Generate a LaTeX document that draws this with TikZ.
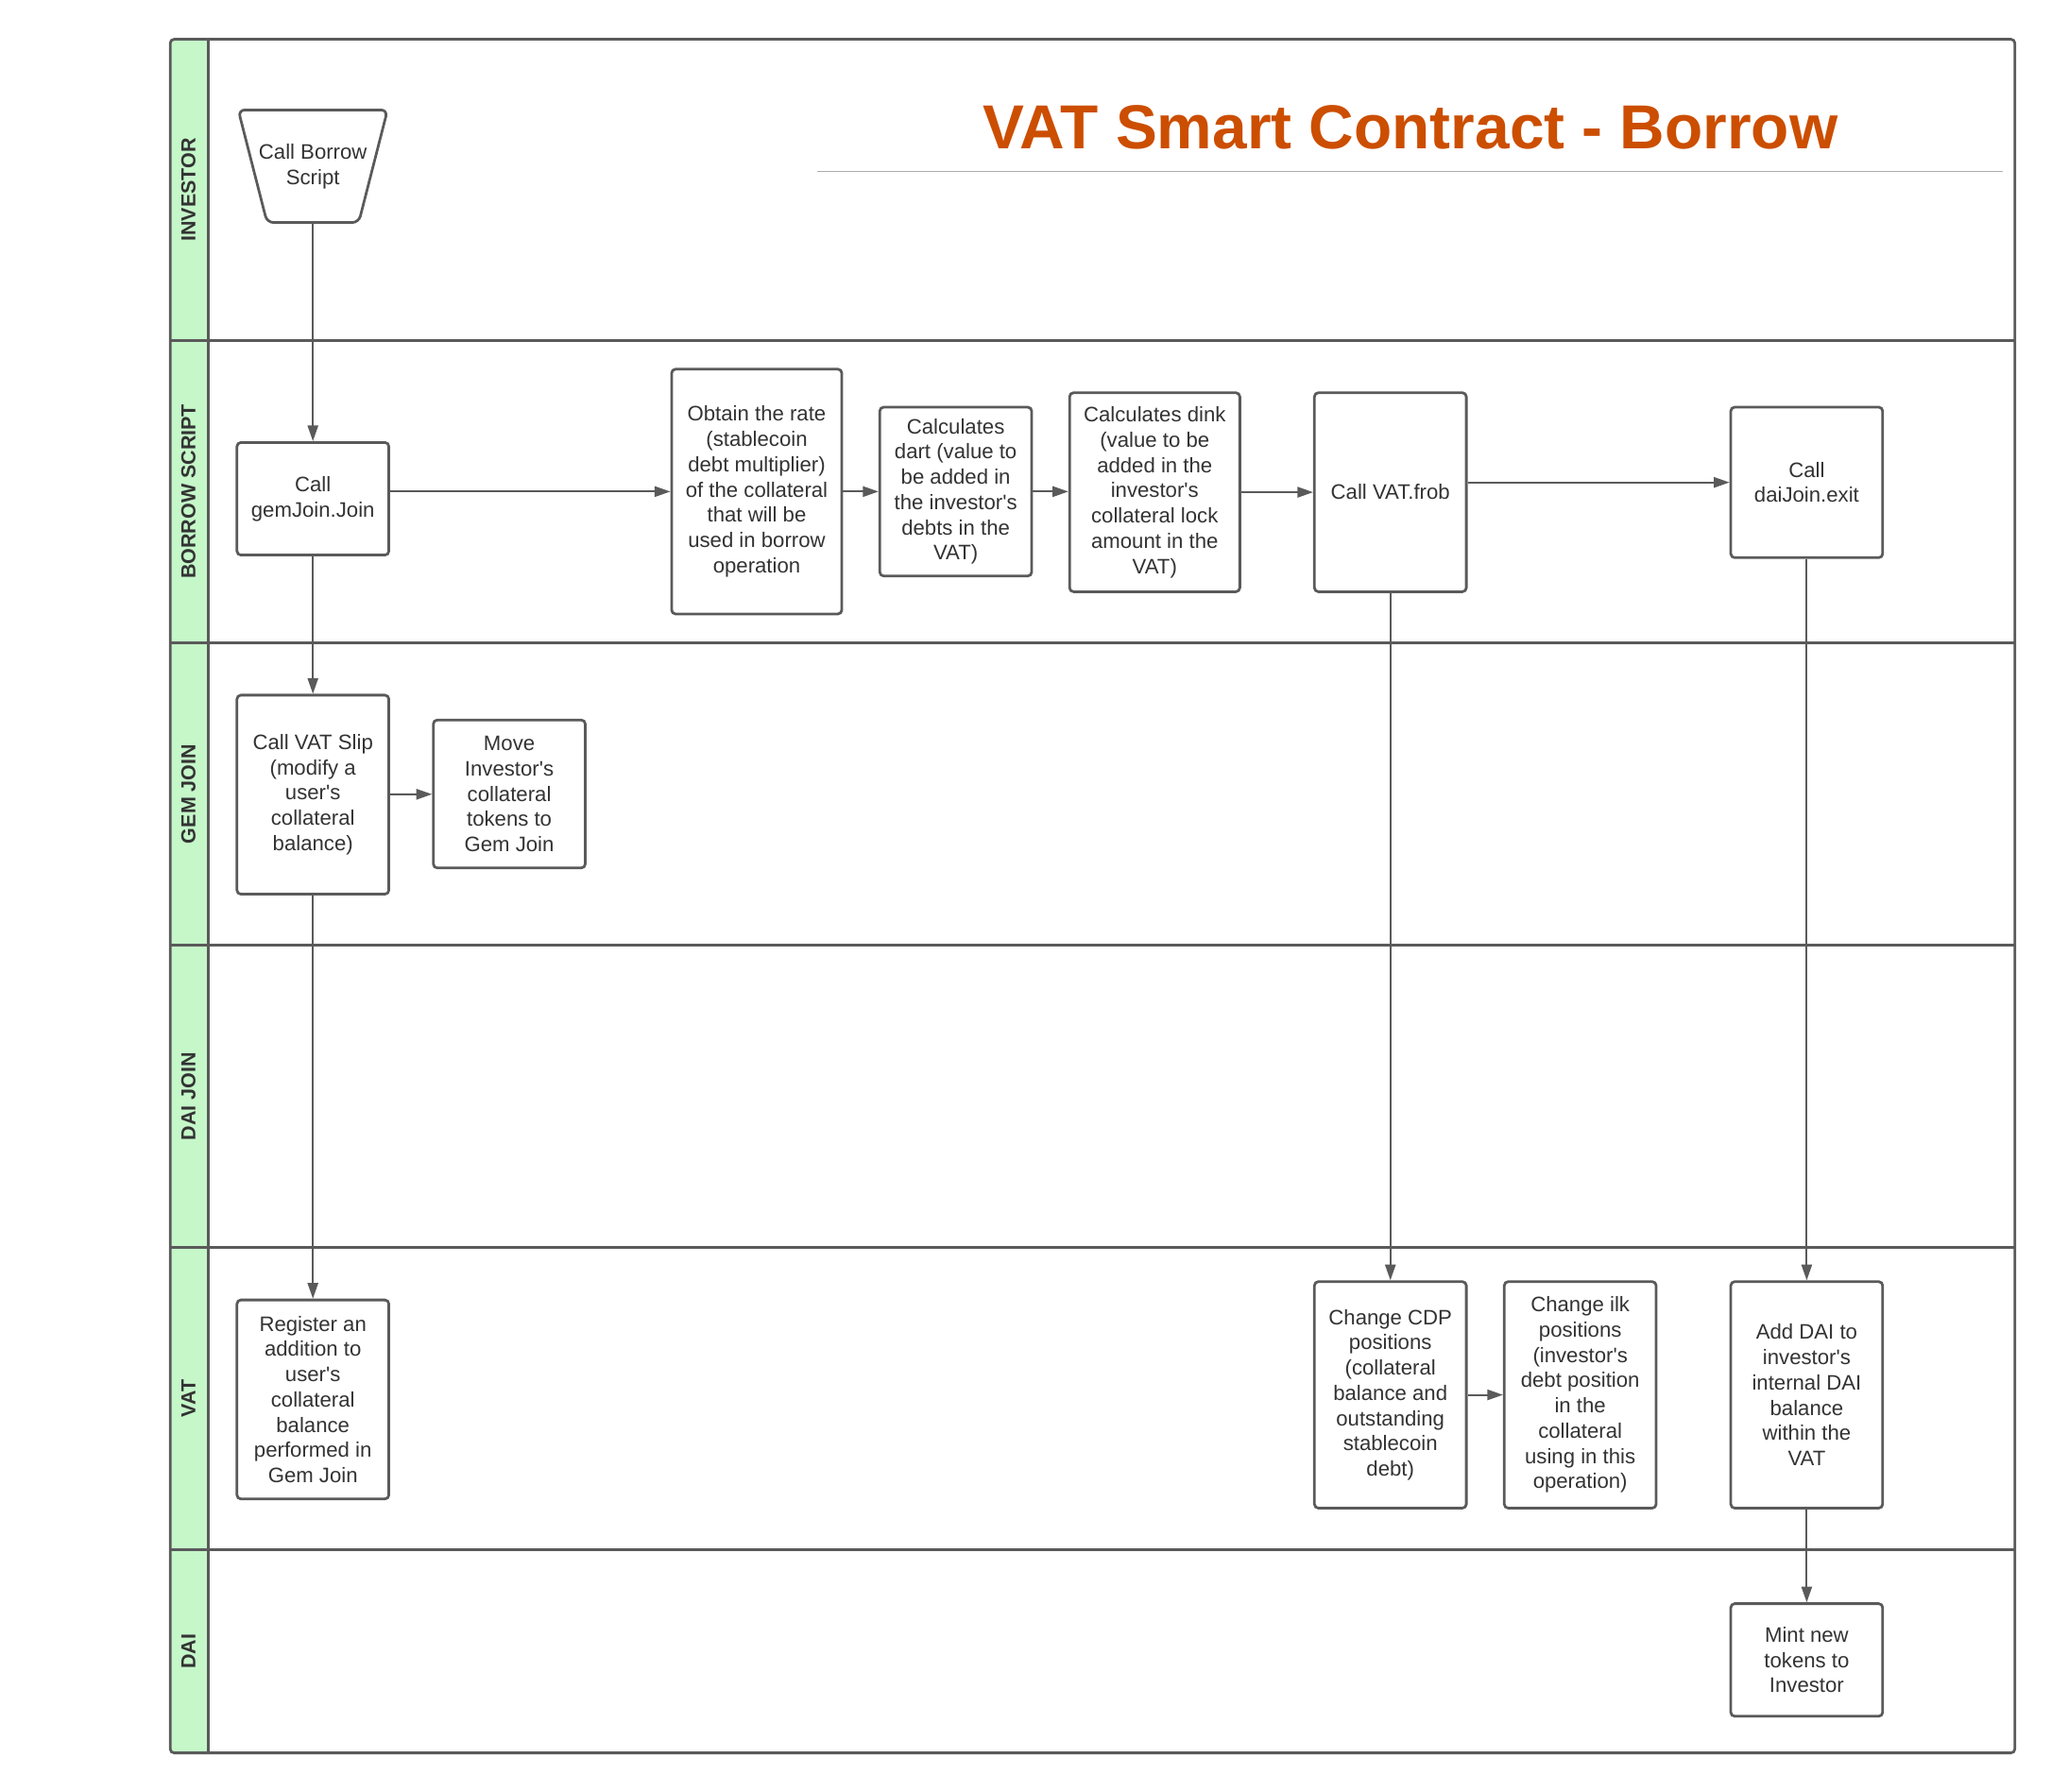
\documentclass[tikz,border=0pt]{standalone}
\usepackage{fontspec}
\setmainfont{Liberation Sans}[Ligatures=TeXOff]
\usetikzlibrary{arrows.meta}
\definecolor{lc}{HTML}{5A5A5A}
\definecolor{tc}{HTML}{333333}
\definecolor{lanegreen}{HTML}{C5F7C9}
\definecolor{titlec}{HTML}{CC4E00}
\begin{document}
\begin{tikzpicture}[x=1pt,y=-1pt,
  txt/.style={align=center, text=tc, font=\fontsize{16}{19.3}\selectfont, inner sep=0pt},
  box/.style={txt, draw=lc, line width=2pt, rounded corners=3pt},
  arr/.style={draw=lc, line width=1.4pt, -{Triangle[length=12pt,width=8pt]}},
  lanelabel/.style={rotate=90, font=\fontsize{15.5}{18}\selectfont\bfseries, text=tc},
  laneline/.style={draw=lc, line width=2pt}
]
\useasboundingbox (0,0) rectangle (1566.6,1368.2);
\fill[white] (0,0) rectangle (1566.6,1368.2);
% lanes
\fill[lanegreen] (130,30) rectangle (159,1339);
\foreach \yy in {260,491,722,953,1184} {\draw[laneline] (130,\yy) -- (1539,\yy);}
\draw[laneline] (159,30) -- (159,1339);
\draw[laneline, rounded corners=3pt] (130,30) rectangle (1539,1339);
\node[lanelabel] (l1) at (144,145) {INVESTOR};
\node[lanelabel] (l2) at (144,375.5) {BORROW SCRIPT};
\node[lanelabel] (l3) at (144,606.5) {GEM JOIN};
\node[lanelabel] (l4) at (144,837.5) {DAI JOIN};
\node[lanelabel] (l5) at (144,1068.5) {VAT};
\node[lanelabel] (l6) at (144,1261.5) {DAI};
% title
\node[font=\fontsize{47.5}{57}\selectfont\bfseries, text=titlec, anchor=base] (title) at (1077.5,114) {VAT Smart Contract - Borrow};
\draw[black!32, line width=1.3pt] (624,131) -- (1530,131);
% nodes
\draw[lc, line width=2pt, rounded corners=5pt] (182,84) -- (296,84) -- (274,170) -- (204,170) -- cycle;
\node[txt, minimum width=114pt, minimum height=86pt] (bs) at (239,127) {Call Borrow\\Script};
\node[box, minimum width=116pt, minimum height=86pt] (gj) at (239,381) {Call\\gemJoin.Join};
\node[box, minimum width=130pt, minimum height=187pt] (ob) at (578,375.5) {Obtain the rate\\(stablecoin\\debt multiplier)\\of the collateral\\that will be\\used in borrow\\operation};
\node[box, minimum width=116pt, minimum height=129pt] (da) at (730,375.5) {Calculates\\dart (value to\\be added in\\the investor's\\debts in the\\VAT)};
\node[box, minimum width=130pt, minimum height=152pt] (dk) at (882,376) {Calculates dink\\(value to be\\added in the\\investor's\\collateral lock\\amount in the\\VAT)};
\node[box, minimum width=116pt, minimum height=152pt] (fr) at (1062,376) {Call VAT.frob};
\node[box, minimum width=116pt, minimum height=115pt] (dj) at (1380,368.5) {Call\\daiJoin.exit};
\node[box, minimum width=116pt, minimum height=152pt] (sl) at (239,607) {Call VAT Slip\\(modify a\\user's\\collateral\\balance)};
\node[box, minimum width=116pt, minimum height=113pt] (mv) at (389,606.5) {Move\\Investor's\\collateral\\tokens to\\Gem Join};
\node[box, minimum width=116pt, minimum height=152pt] (rg) at (239,1069) {Register an\\addition to\\user's\\collateral\\balance\\performed in\\Gem Join};
\node[box, minimum width=116pt, minimum height=173pt] (cdp) at (1062,1065.5) {Change CDP\\positions\\(collateral\\balance and\\outstanding\\stablecoin\\debt)};
\node[box, minimum width=116pt, minimum height=173pt] (ilk) at (1207,1065.5) {Change ilk\\positions\\(investor's\\debt position\\in the\\collateral\\using in this\\operation)};
\node[box, minimum width=116pt, minimum height=173pt] (ad) at (1380,1065.5) {Add DAI to\\investor's\\internal DAI\\balance\\within the\\VAT};
\node[box, minimum width=116pt, minimum height=86pt] (mt) at (1380,1268) {Mint new\\tokens to\\Investor};
% connectors
\draw[arr] (bs) -- (gj);
\draw[arr] (gj.east |- ob.west) -- (ob.west);
\draw[arr] (ob.east) -- (da.west);
\draw[arr] (da.east) -- (da.east -| dk.west);
\draw[arr] (dk.east) -- (fr.west);
\draw[arr] (fr.east |- dj.west) -- (dj.west);
\draw[arr] (gj) -- (sl);
\draw[arr] (sl) -- (mv);
\draw[arr] (sl) -- (rg);
\draw[arr] (fr) -- (cdp);
\draw[arr] (dj) -- (ad);
\draw[arr] (cdp) -- (ilk);
\draw[arr] (ad) -- (mt);
\end{tikzpicture}
\end{document}
